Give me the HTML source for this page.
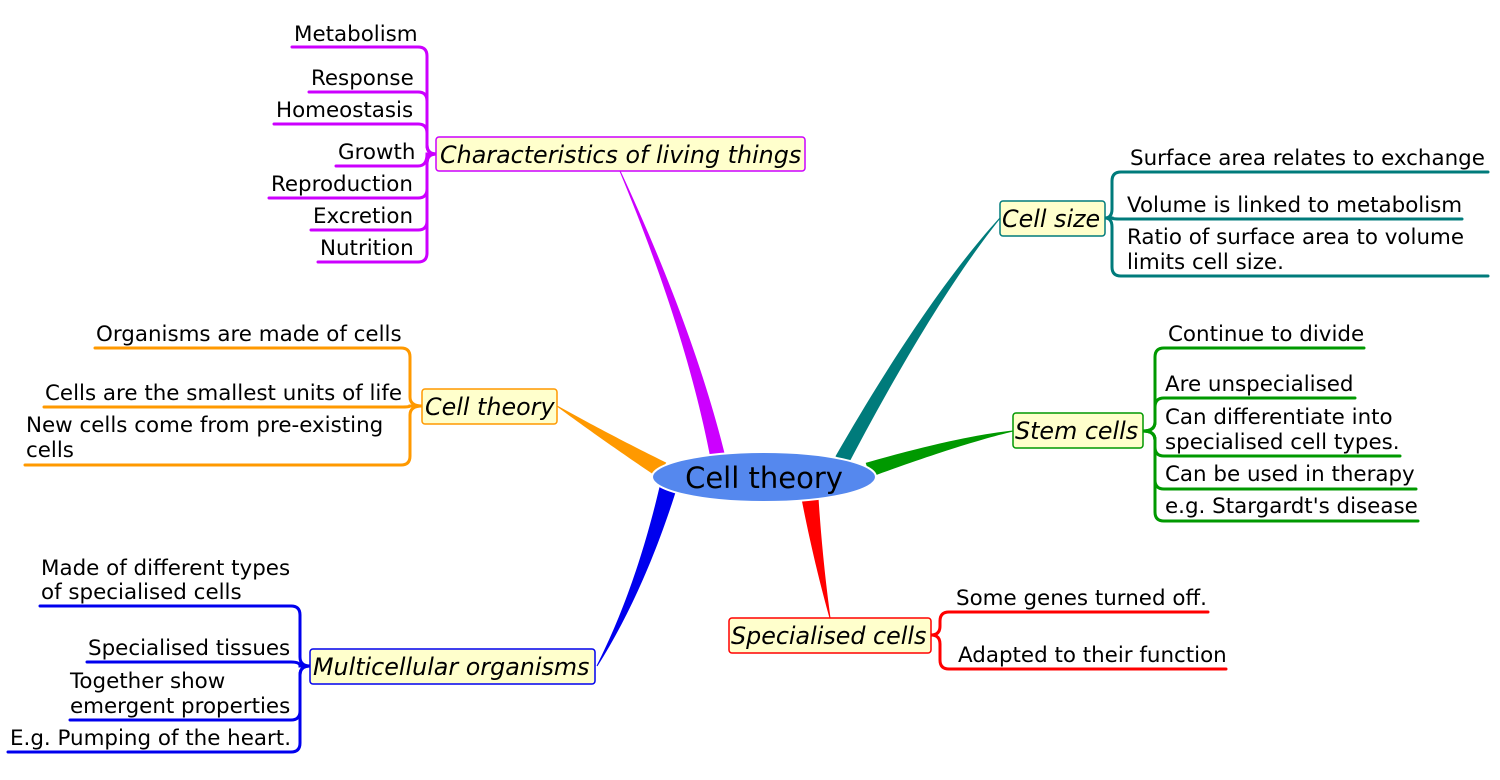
<!DOCTYPE html>
<html><head><meta charset="utf-8"><style>
html,body{margin:0;padding:0;background:#fff;}
svg{display:block}
text{font-family:"DejaVu Sans","Liberation Sans",sans-serif;font-size:21.4px;fill:#000}
.n{font-style:italic;font-size:23.8px}
</style></head><body>
<svg id="s" width="1500" height="780" viewBox="0 0 1500 780">
<g id="g"></g>
<ellipse cx="764" cy="477" rx="112" ry="25" fill="#5588ee" stroke="#fff" stroke-width="2"/>
<text x="764" y="488" text-anchor="middle" style="font-size:29px">Cell theory</text>

<rect x="436" y="137" width="369" height="34" rx="3" fill="#ffffcc" stroke="#cc00ff" stroke-width="1.5"/>
<text class="n" x="440" y="163">Characteristics of living things</text>
<rect x="422" y="389" width="135" height="35" rx="3" fill="#ffffcc" stroke="#ff9900" stroke-width="1.5"/>
<text class="n" x="425" y="415">Cell theory</text>
<rect x="310" y="649" width="285" height="35" rx="3" fill="#ffffcc" stroke="#0000ee" stroke-width="1.5"/>
<text class="n" x="313" y="675">Multicellular organisms</text>
<rect x="1000" y="201" width="105" height="35" rx="3" fill="#ffffcc" stroke="#007b7b" stroke-width="1.5"/>
<text class="n" x="1002" y="227">Cell size</text>
<rect x="1013" y="413" width="130" height="35" rx="3" fill="#ffffcc" stroke="#009900" stroke-width="1.5"/>
<text class="n" x="1015" y="439">Stem cells</text>
<rect x="729" y="618" width="202" height="35" rx="3" fill="#ffffcc" stroke="#ff0000" stroke-width="1.5"/>
<text class="n" x="731" y="644">Specialised cells</text>

<text x="294" y="41">Metabolism</text>
<text x="311" y="85">Response</text>
<text x="276" y="117">Homeostasis</text>
<text x="338" y="159">Growth</text>
<text x="271" y="191">Reproduction</text>
<text x="313" y="223">Excretion</text>
<text x="320" y="255">Nutrition</text>

<text x="96" y="341">Organisms are made of cells</text>
<text x="45" y="400">Cells are the smallest units of life</text>
<text x="26" y="432">New cells come from pre-existing</text>
<text x="26" y="457">cells</text>

<text x="41" y="575">Made of different types</text>
<text x="41" y="599"> of specialised cells</text>
<text x="88" y="655">Specialised tissues</text>
<text x="70" y="688">Together show</text>
<text x="70" y="713">emergent properties</text>
<text x="10" y="745">E.g. Pumping of the heart.</text>

<text x="1130" y="165">Surface area relates to exchange</text>
<text x="1127" y="212">Volume is linked to metabolism</text>
<text x="1127" y="244">Ratio of surface area to volume</text>
<text x="1127" y="269">limits cell size.</text>

<text x="1168" y="341">Continue to divide</text>
<text x="1165" y="391">Are unspecialised</text>
<text x="1165" y="424">Can differentiate into</text>
<text x="1165" y="449">specialised cell types.</text>
<text x="1165" y="481">Can be used in therapy</text>
<text x="1165" y="513">e.g. Stargardt's disease</text>

<text x="956" y="605">Some genes turned off.</text>
<text x="958" y="662">Adapted to their function</text>
</svg>
<script>
var g=document.getElementById('g'),NS='http://www.w3.org/2000/svg';
function P(d,c,f){var p=document.createElementNS(NS,'path');p.setAttribute('d',d);if(f){p.setAttribute('fill',c);}else{p.setAttribute('fill','none');p.setAttribute('stroke',c);p.setAttribute('stroke-width','3');p.setAttribute('stroke-linecap','round');}g.appendChild(p);}
function taper(x1,y1,x2,y2,cx,cy,w,c){
 var L=[],R=[],N=30;
 for(var i=0;i<=N;i++){var t=i/N,u=1-t;
  var x=u*u*x1+2*u*t*cx+t*t*x2,y=u*u*y1+2*u*t*cy+t*t*y2;
  var dx=2*u*(cx-x1)+2*t*(x2-cx),dy=2*u*(cy-y1)+2*t*(y2-cy),l=Math.hypot(dx,dy);
  var hw=(w*(1-t)+1*t)/2;L.push([x-dy/l*hw,y+dx/l*hw]);R.push([x+dy/l*hw,y-dx/l*hw]);}
 var d='M'+L.map(p=>p.join(',')).join('L')+'L'+R.reverse().map(p=>p.join(',')).join('L')+'Z';P(d,c,1);}
taper(718,458,620,171,690,330,15,'#cc00ff');
taper(842,460,1000,218,930,300,15,'#007b7b');
taper(868,470,1013,431,960,440,15,'#009900');
taper(810,498,830,618,818,560,17,'#ff0000');
taper(668,488,597,666,640,590,17,'#0000ee');
taper(662,470,557,406,610,440,17,'#ff9900');
function br(bx,ny,ex,leaves,c,side){
 var r=9;
 leaves.forEach(function(l){var x0=l[0],y=l[1],s=(ny>y)?1:-1;
  if(Math.abs(ny-y)<r*2){P('M'+x0+','+y+'H'+(bx+side*r)+'Q'+bx+','+y+' '+bx+','+ny+'H'+ex,c);return;}
  P('M'+x0+','+y+'H'+(bx+side*r)+'Q'+bx+','+y+' '+bx+','+(y+s*r)+'V'+(ny-s*r)+'Q'+bx+','+ny+' '+ex+','+ny,c);});
}
br(427,154,436,[[292,47],[309,92],[274,124],[336,166],[269,198],[311,230],[318,262]],'#cc00ff',-1);
br(410,406,422,[[95,348],[44,407],[25,465]],'#ff9900',-1);
br(300,666,310,[[40,606],[87,662],[70,720],[8,752]],'#0000ee',-1);
br(1112,218,1105,[[1488,172],[1462,219],[1488,276]],'#007b7b',1);
br(1155,431,1143,[[1364,348],[1355,398],[1400,456],[1416,489],[1418,521]],'#009900',1);
br(940,635,931,[[1208,612],[1226,669]],'#ff0000',1);
</script>
</body></html>
